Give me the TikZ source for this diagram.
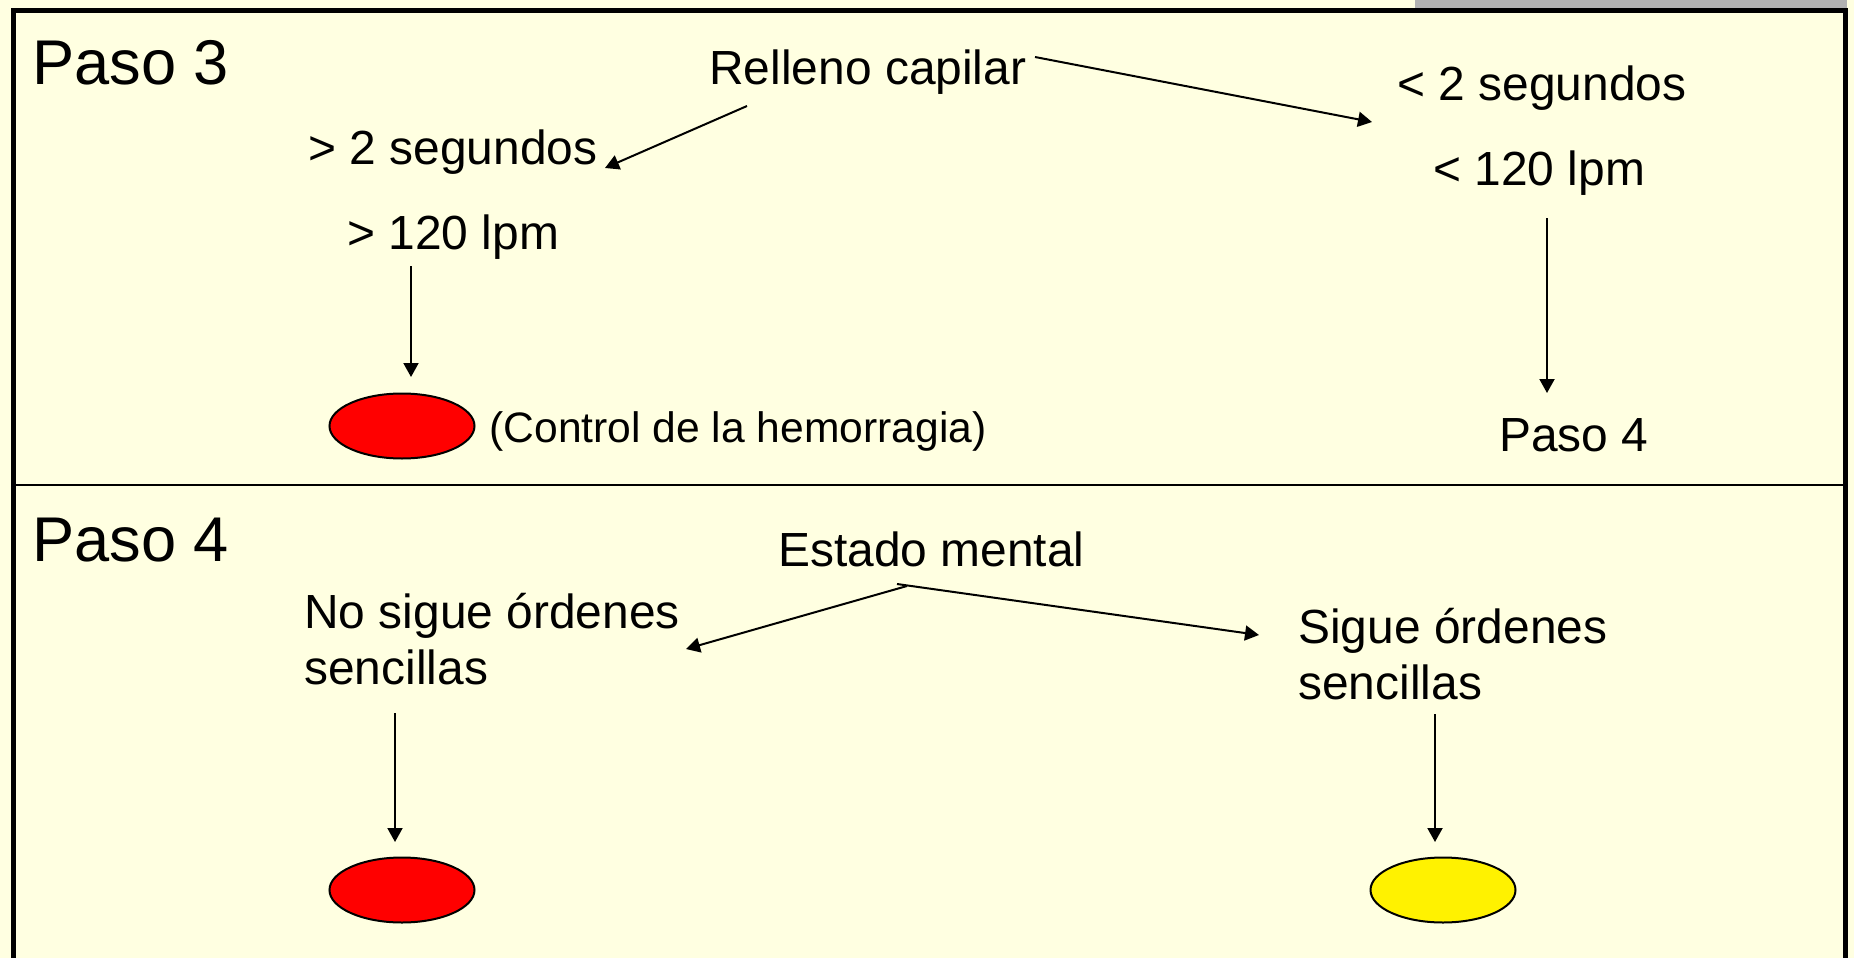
\documentclass[tikz,border=0pt]{standalone}
\usepackage{fontspec}
\setmainfont{Liberation Sans}
\usetikzlibrary{arrows.meta,shapes.geometric}
\definecolor{cream}{RGB}{255,255,225}
\definecolor{bargray}{RGB}{178,178,178}
\begin{document}
\begin{tikzpicture}[x=0.5pt,y=-0.5pt,
  head/.style={inner sep=0,anchor=base west,font=\fontsize{31.6}{37}\selectfont},
  txt/.style={inner sep=0,anchor=base west,font=\fontsize{23.95}{28}\selectfont,align=left},
  small/.style={inner sep=0,anchor=base west,font=\fontsize{21.3}{25}\selectfont},
  arr/.style={line width=1pt,-{Triangle[width=7.5pt,length=7pt]}},
  light/.style={shape=ellipse,draw=black,line width=1pt,minimum width=72.5pt,minimum height=32.5pt,inner sep=0}
]
\useasboundingbox (0,0) rectangle (1854,958);
\fill[cream] (0,0) rectangle (1854,958);
\fill[bargray] (1415,0) rectangle (1847,9);
\draw[line width=2.5pt,line join=miter] (13,975) -- (13,10.5) -- (1845,10.5) -- (1845,975);
\draw[line width=1.2pt] (13,485) -- (1845,485);

% Paso 3
\node[head] (p3) at (32,84) {Paso 3};
\node[txt] (rc) at (709,84) {Relleno capilar};
\node[txt] (gt2) at (308,164) {> 2 segundos};
\node[txt] (gt120) at (347,249) {> 120 lpm};
\node[txt] (lt2) at (1397,100) {< 2 segundos};
\node[txt] (lt120) at (1433,185) {< 120 lpm};
\node[txt] (p4b) at (1499,451) {Paso 4};
\node[light,fill=red] (e1) at (402,426) {};
\node[small] (ctl) at (489,442) {(Control de la hemorragia)};

\coordinate (rcL) at (747,106);
\coordinate (gt2R) at (605,168);
\coordinate (rcR) at (1035,57);
\coordinate (lt2L) at (1372,122);
\coordinate (gt120B) at (411,266);
\coordinate (e1T) at (411,377);
\coordinate (lt120B) at (1547,218);
\coordinate (p4bT) at (1547,393);
\draw[arr] (rcL) -- (gt2R);
\draw[arr] (rcR) -- (lt2L);
\draw[arr] (gt120B) -- (e1T);
\draw[arr] (lt120B) -- (p4bT);

% Paso 4
\node[head] (p4) at (32,561) {Paso 4};
\node[txt] (em) at (778,566) {Estado mental};
\node[txt] (no) at (304,684) {No sigue órdenes\\sencillas};
\node[txt] (si) at (1298,699) {Sigue órdenes\\sencillas};
\node[light,fill=red] (e2) at (402,890) {};
\node[light,fill=yellow] (e3) at (1443,890) {};

\coordinate (emB1) at (907,586);
\coordinate (emB2) at (897,584);
\coordinate (noR) at (686,649);
\coordinate (siL) at (1259,635);
\coordinate (noB) at (395,713);
\coordinate (e2T) at (395,842);
\coordinate (siB) at (1435,714);
\coordinate (e3T) at (1435,842);
\draw[arr] (emB1) -- (noR);
\draw[arr] (emB2) -- (siL);
\draw[arr] (noB) -- (e2T);
\draw[arr] (siB) -- (e3T);
\end{tikzpicture}
\end{document}
